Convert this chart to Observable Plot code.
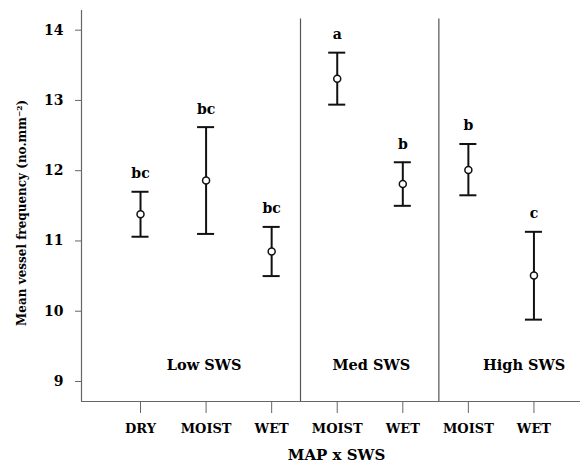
<!DOCTYPE html>
<html><head><meta charset="utf-8">
<script src="https://cdn.jsdelivr.net/npm/d3@7"></script>
<script src="https://cdn.jsdelivr.net/npm/@observablehq/plot@0.6"></script>
<style>
body{margin:0;background:#fff;}
#chart svg{display:block;}
#chart svg, #chart svg text{font-family:"DejaVu Serif",serif !important;font-weight:bold;}
</style>
</head><body><div id="chart"></div>
<script>
const categories = ["DRY","MOIST","WET","MOIST","WET","MOIST","WET"];
const means = [11.38, 11.86, 10.85, 13.31, 11.81, 12.01, 10.51];
const upper = [11.70, 12.62, 11.20, 13.68, 12.12, 12.38, 11.13];
const lower = [11.06, 11.10, 10.50, 12.94, 11.50, 11.65, 9.88];
const letters = ["bc","bc","bc","a","b","b","c"];
const groupLabels = ["Low SWS","Med SWS","High SWS"];
const groupCenters = [0.97, 3.52, 5.85];
const groupLabelY = 9.23;
const separators = [2.44, 4.55];
const yTicks = [9,10,11,12,13,14];

const data = categories.map((c,i)=>({i, c, mean:means[i], up:upper[i], lo:lower[i], letter:letters[i]}));
const groups = groupLabels.map((g,k)=>({g, x:groupCenters[k], y:groupLabelY}));

const font = "DejaVu Serif";
const xDomain = [-0.9, 6.71];
const yDomain = [8.715, 14.28];
const capHalf = 0.13;

const chart = Plot.plot({
  width: 581, height: 464,
  marginLeft: 81, marginRight: 1, marginTop: 10, marginBottom: 63,
  style: {fontFamily: font, fontWeight: "bold", color: "#000", background: "#fff"},
  x: {domain: xDomain, axis: null},
  y: {domain: yDomain, axis: null},
  marks: [
    Plot.ruleX(separators, {x: d=>d, y1: yDomain[0], y2: 14.16, stroke: "#555", strokeWidth: 1.2}),
    Plot.ruleX([xDomain[0]], {stroke: "#666", strokeWidth: 1.2}),
    Plot.ruleY([yDomain[0]], {stroke: "#666", strokeWidth: 1.2}),
    Plot.axisY({ticks: yTicks, tickFormat: d => String(d), tickSize: 6, tickPadding: 12, stroke: "#666", fontSize: 14, fontFamily: font, fontWeight: "bold", label: null}),
    Plot.axisX({ticks: d3.range(categories.length), tickFormat: i => categories[i], tickSize: 12, tickPadding: 10, stroke: "#666", fontSize: 13, fontFamily: font, fontWeight: "bold", label: null}),
    Plot.ruleX(data, {x: "i", y1: "lo", y2: "up", stroke: "#111", strokeWidth: 2}),
    Plot.ruleY(data, {y: "up", x1: d=>d.i-capHalf, x2: d=>d.i+capHalf, stroke: "#111", strokeWidth: 2}),
    Plot.ruleY(data, {y: "lo", x1: d=>d.i-capHalf, x2: d=>d.i+capHalf, stroke: "#111", strokeWidth: 2}),
    Plot.dot(data, {x: "i", y: "mean", r: 3.5, stroke: "#111", strokeWidth: 1.5, fill: "#fff"}),
    Plot.text(data, {x: "i", y: "up", text: "letter", dy: -18, fontSize: 14, fontFamily: font, fontWeight: "bold", fill: "#000"}),
    Plot.text(groups, {x: "x", y: "y", text: "g", fontSize: 14.5, fontFamily: font, fontWeight: "bold", fill: "#000"}),
    Plot.text(["MAP x SWS"], {x: 2.99, y: yDomain[0], text: d=>d, dy: 54, fontSize: 15, fontFamily: font, fontWeight: "bold", fill: "#000"}),
    Plot.text(["Mean vessel frequency (no.mm⁻²)"], {x: xDomain[0], y: 11.40, text: d=>d, rotate: -90, dx: -59, fontSize: 12, fontFamily: font, fontWeight: "bold", fill: "#000"})
  ]
});
document.getElementById("chart").appendChild(chart);
</script>
</body></html>
